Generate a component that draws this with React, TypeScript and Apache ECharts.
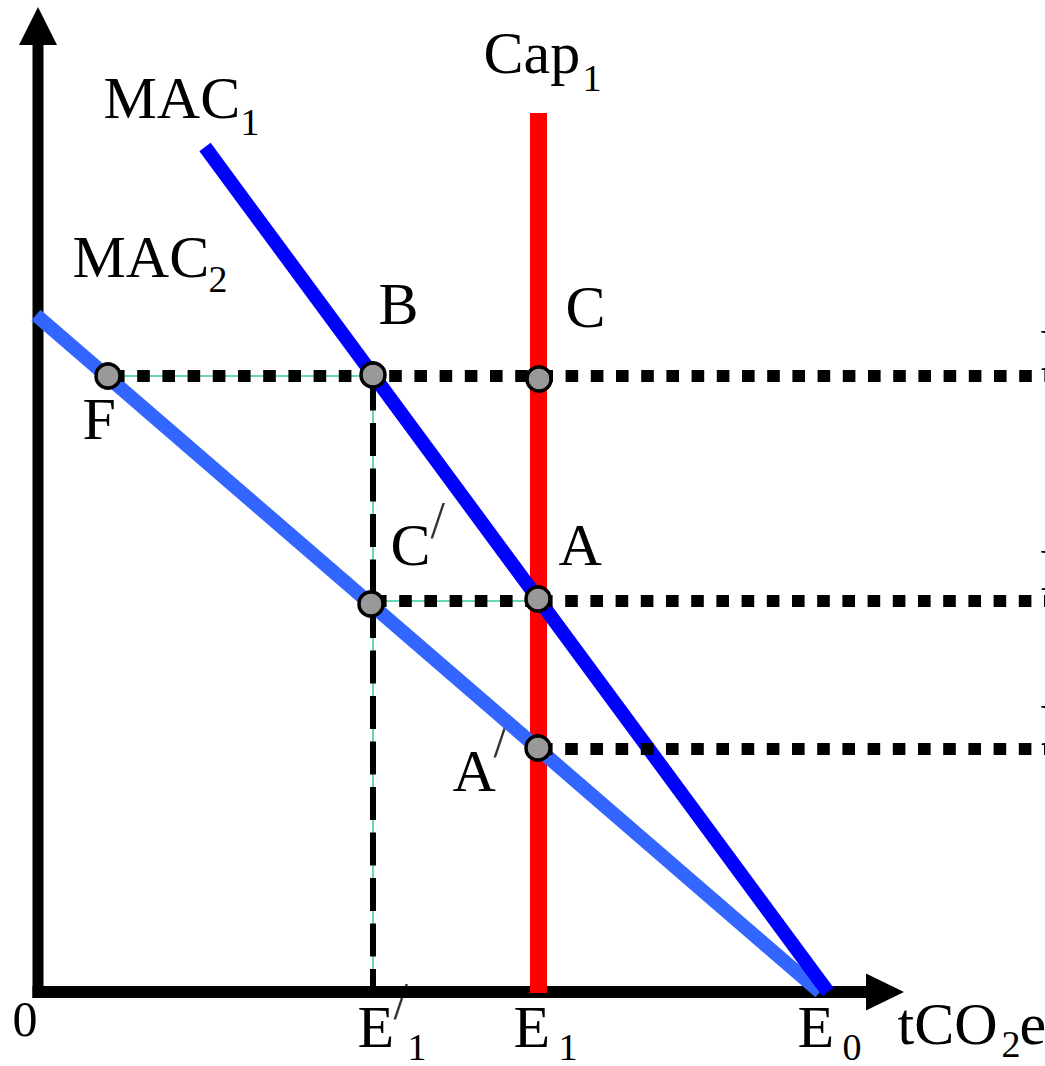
import React, { useEffect, useRef } from "react";
import * as echarts from "echarts";

// Coordinates are in diagram units: x to the right of the origin, y above it.
const axisYLine = [[0, -6], [0, 947]];
const axisXLine = [[-5.5, 0], [828, 0]];
const arrowHeads = [
  [[-19, 947], [19, 947], [0, 985]],
  [[828, 18.5], [828, -18.5], [866, 0]],
];
const mac1 = [[167, 845], [790, 0]];
const mac2 = [[-2, 677], [782, 0]];
const cap1 = [[500.5, -1], [500.5, 879]];

const pointNames = ["F", "B", "C", "C'", "A", "A'"];
const pointValues = [[70, 616], [335, 617], [501, 613], [333, 388], [500, 393], [500, 244]];

const dottedLines = [
  [[74, 616], [1007, 616]],
  [[336, 391], [500, 391]],
  [[502, 391], [1007, 391]],
  [[502, 243], [1007, 243]],
];
const dashedLine = [[335, 614.5], [335, 6]];
const guideLines = [
  [[70, 616], [335, 616]],
  [[333, 391], [500, 391]],
  [[335, 617], [335, 6]],
];

// text, x(left), y(center), fontSize
const labelTexts = ["MAC", "1", "MAC", "2", "Cap", "1", "B", "C", "F", "C", "A", "A", "0", "E", "1", "E", "1", "E", "0", "tCO", "2", "e", "P", "P", "P"];
const labelX = [65, 202, 34, 170, 445, 544, 340, 527, 44, 352, 520, 414, -26, 319, 369, 475, 520, 759, 804, 859, 963, 981, 1001, 1001, 1001];
const labelY = [894.5, 870, 735, 713, 939.5, 914, 688, 685.5, 573, 447, 447, 221, -26.5, -35, -55, -35, -55, -35, -55, -32, -52, -32, 642, 422, 267];
const labelSize = [60, 38, 60, 38, 60, 38, 60, 60, 60, 60, 60, 60, 50, 60, 38, 60, 38, 60, 38, 60, 38, 60, 60, 60, 60];

const primeX = [392, 455, 355];
const primeY = [472, 253, -9];

const FONT = "Liberation Serif, Times New Roman, serif";

function lineSeries(data: number[][], color: string, width: number, z: number, type: any = "solid") {
  return {
    type: "line",
    data,
    symbol: "none",
    showSymbol: false,
    silent: true,
    z,
    lineStyle: { color, width, type, cap: "butt" },
  };
}

export default function App() {
  const ref = useRef<HTMLDivElement>(null);
  useEffect(() => {
    if (!ref.current) return;
    const chart = echarts.init(ref.current, null, { renderer: "svg" });
    const series: any[] = [];
    series.push(lineSeries(axisYLine, "#000", 11, 2));
    series.push(lineSeries(axisXLine, "#000", 12, 2));
    series.push({
      type: "custom",
      z: 2,
      silent: true,
      data: arrowHeads.map((t) => t[2]),
      renderItem: (params: any, api: any) => {
        const tri = arrowHeads[params.dataIndex];
        return {
          type: "polygon",
          shape: { points: tri.map((p) => api.coord(p)) },
          style: { fill: "#000" },
        };
      },
    });
    guideLines.forEach((g) => series.push(lineSeries(g, "#33CC99", 1.5, 3)));
    series.push(lineSeries(cap1, "#FF0000", 17, 3));
    series.push(lineSeries(mac2, "#3366FF", 14, 4));
    series.push(lineSeries(mac1, "#0000FF", 14, 4));
    dottedLines.forEach((d) => series.push(lineSeries(d, "#000", 12, 5, [12.6, 12.6])));
    series.push(lineSeries(dashedLine, "#000", 6, 5, [33, 12.5]));
    series.push({
      type: "scatter",
      z: 6,
      silent: true,
      symbol: "circle",
      symbolSize: 24,
      itemStyle: { color: "#999999", borderColor: "#000", borderWidth: 3.5, opacity: 1 },
      data: pointValues.map((v, i) => ({ name: pointNames[i], value: v })),
    });
    series.push({
      type: "scatter",
      z: 7,
      silent: true,
      symbolSize: 1,
      itemStyle: { color: "rgba(0,0,0,0)" },
      label: {
        show: true,
        position: "right",
        distance: 0,
        color: "#000000",
        opacity: 1,
        fontFamily: FONT,
      },
      data: labelTexts.map((t, i) => ({
        value: [labelX[i], labelY[i]],
        label: { formatter: t, fontSize: labelSize[i], lineHeight: Math.round(labelSize[i] * 0.7) },
      })),
    });
    series.push({
      type: "scatter",
      z: 1,
      silent: true,
      symbolSize: 1,
      itemStyle: { color: "rgba(0,0,0,0)" },
      label: {
        show: true,
        position: "right",
        distance: 0,
        color: "#000000",
        fontFamily: FONT,
        fontSize: 52,
        lineHeight: 36,
        formatter: "/",
      },
      data: primeX.map((x, i) => [x, primeY[i]]),
    });
    chart.setOption({
      animation: false,
      grid: { left: 0, right: 0, top: 0, bottom: 0, containLabel: false },
      xAxis: { type: "value", min: -38, max: 1007, show: false },
      yAxis: { type: "value", min: -74, max: 992, show: false },
      series,
    });
    return () => chart.dispose();
  }, []);
  return (
    <div
      ref={ref}
      style={{ position: "absolute", left: 0, top: 0, width: 1045, height: 1066, background: "#fff" }}
    />
  );
}
